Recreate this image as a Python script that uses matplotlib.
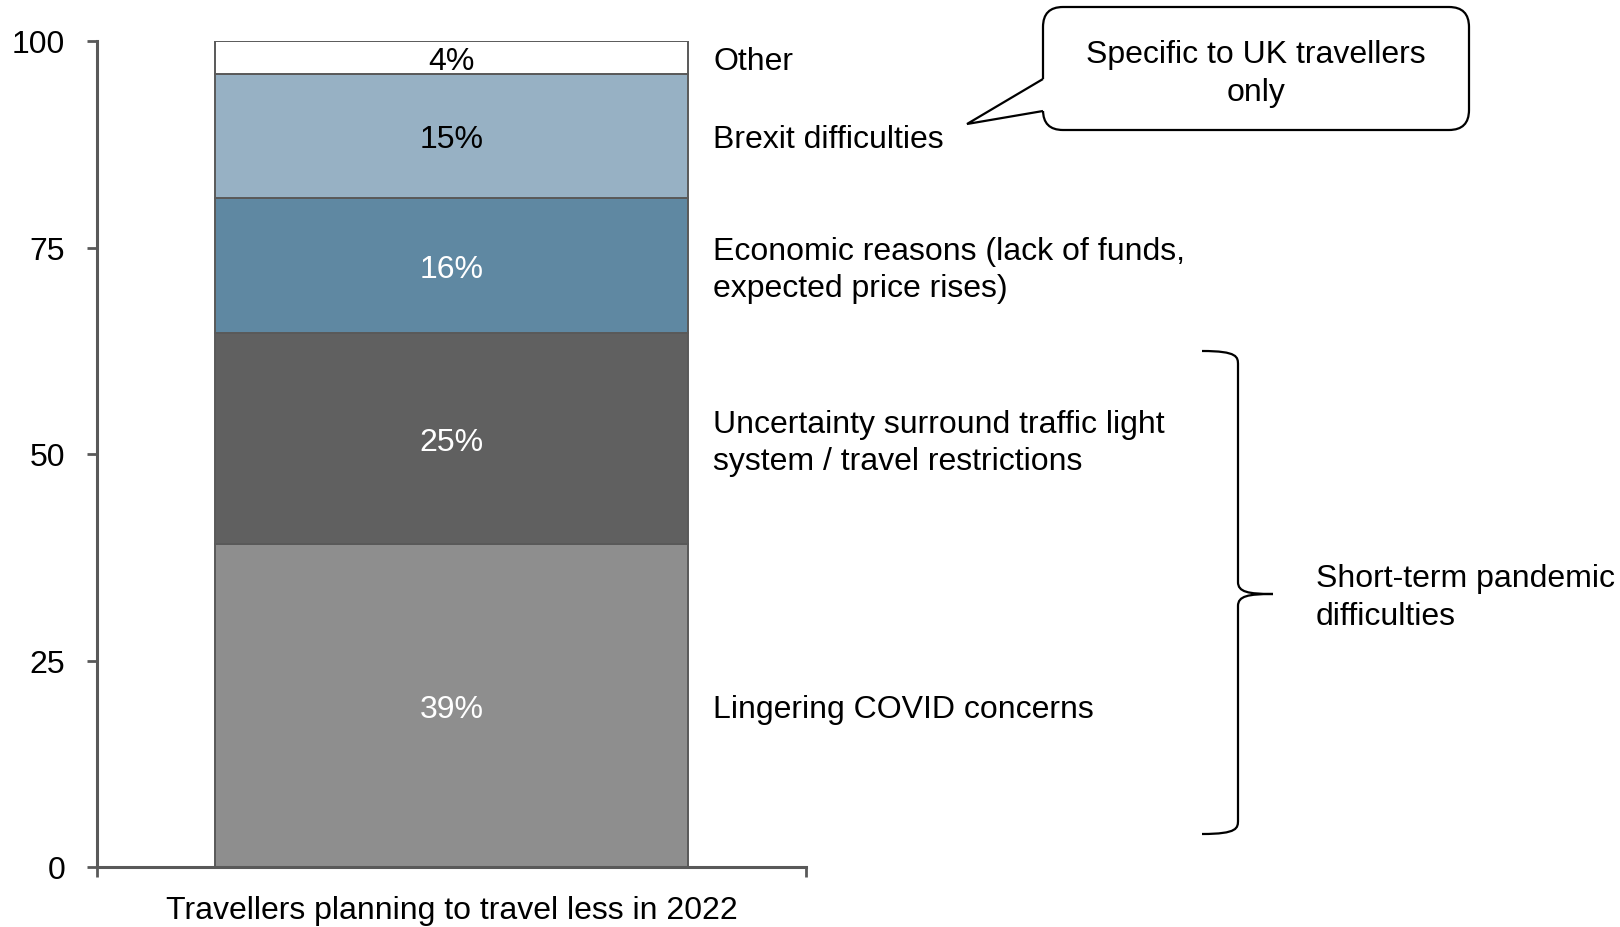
import matplotlib
matplotlib.use("Agg")
import matplotlib.pyplot as plt
from matplotlib.patches import FancyBboxPatch, Polygon, PathPatch
from matplotlib.path import Path
from matplotlib.transforms import Affine2D

plt.rcParams['font.family'] = ['Liberation Sans', 'DejaVu Sans']

# ---- data ----
category = "Travellers planning to travel less in 2022"
segments = ["Lingering COVID concerns",
            "Uncertainty surround traffic light\nsystem / travel restrictions",
            "Economic reasons (lack of funds,\nexpected price rises)",
            "Brexit difficulties",
            "Other"]
values = [39.1, 25.5, 16.4, 15.0, 4.0]
value_labels = ["39%", "25%", "16%", "15%", "4%"]
colors = ["#8E8E8E", "#606060", "#5F88A2", "#97B1C4", "#FFFFFF"]
label_colors = ["white", "white", "white", "black", "black"]
yticks = [0, 25, 50, 75, 100]
callout_text = "Specific to UK travellers\nonly"
brace_text = "Short-term pandemic\ndifficulties"

W, H, DPI = 1620, 928, 100
fig = plt.figure(figsize=(W / DPI, H / DPI), dpi=DPI)
ax = fig.add_axes([97 / W, 60 / H, 709 / W, 826 / H])

FS = 23
bottom = 0
for v, c, lab, lc, seg in zip(values, colors, value_labels, label_colors, segments):
    ax.bar(0, v, bottom=bottom, width=0.667, color=c, edgecolor="#595959",
           linewidth=1.4, zorder=2)
    mid = bottom + v / 2
    ax.annotate(lab, (0, mid), xytext=(0, -3.5), textcoords="offset pixels",
                ha="center", va="center", color=lc, fontsize=FS, zorder=3)
    ax.annotate(seg, (0.369, mid), xytext=(0, -3.5), textcoords="offset pixels",
                ha="left", va="center", color="black", fontsize=FS,
                linespacing=1.3, annotation_clip=False)
    bottom += v

ax.set_xlim(-0.5, 0.5)
ax.set_ylim(0, 100)
ax.set_yticks(yticks)
ax.set_yticklabels([str(t) for t in yticks])
ax.set_xticks([0])
ax.set_xticklabels([category])
ax.set_xticks([-0.5, 0.5], minor=True)
ax.tick_params(axis="x", which="major", length=0, pad=20, labelsize=FS)
ax.tick_params(axis="x", which="minor", length=7, width=2, color="#595959", direction="out")
ax.tick_params(axis="y", length=7, width=2, color="#595959", pad=16, labelsize=FS)
for s in ["top", "right"]:
    ax.spines[s].set_visible(False)
for s in ["left", "bottom"]:
    ax.spines[s].set_color("#595959")
    ax.spines[s].set_linewidth(2.2)

# pixel transform (top-left origin)
px = Affine2D().scale(1 / DPI, -1 / DPI).translate(0, H / DPI) + fig.dpi_scale_trans

# callout box
box = FancyBboxPatch((1043, 8), 1469 - 1043, 131 - 8,
                     boxstyle="round,pad=0,rounding_size=20",
                     facecolor="white", edgecolor="black", linewidth=1.6,
                     transform=px, zorder=5)
fig.patches.append(box)
tip = (967, 125)
a1 = (1043, 80)
a2 = (1043, 112)
cover = Polygon([tip, a1, (1046, a1[1]), (1046, a2[1]), a2], closed=True,
                facecolor="white", edgecolor="none", transform=px, zorder=6)
fig.patches.append(cover)
ptr = Path([a1, tip, a2], [Path.MOVETO, Path.LINETO, Path.LINETO])
fig.patches.append(PathPatch(ptr, facecolor="none", edgecolor="black", linewidth=1.6,
                             transform=px, zorder=7))
fig.text(1256 / W, 1 - 74 / H, callout_text, ha="center", va="center",
         fontsize=FS, linespacing=1.38, zorder=8)

# brace
xl, xv, xt = 1202, 1238, 1273
yt, ym, yb = 352, 595, 835
verts = [(xl, yt), (xv, yt), (xv, yt + 6), (xv, yt + 14),
         (xv, ym - 12),
         (xv, ym - 2), (xv + 10, ym), (xt, ym),
         (xv + 10, ym), (xv, ym + 2), (xv, ym + 12),
         (xv, yb - 14),
         (xv, yb - 6), (xv, yb), (xl, yb)]
codes = [Path.MOVETO, Path.CURVE4, Path.CURVE4, Path.CURVE4,
         Path.LINETO,
         Path.CURVE4, Path.CURVE4, Path.CURVE4,
         Path.CURVE4, Path.CURVE4, Path.CURVE4,
         Path.LINETO,
         Path.CURVE4, Path.CURVE4, Path.CURVE4]
fig.patches.append(PathPatch(Path(verts, codes), facecolor="none", edgecolor="black",
                             linewidth=1.6, transform=px))
fig.text(1316 / W, 1 - 598 / H, brace_text, ha="left", va="center",
         fontsize=FS, linespacing=1.37)

fig.savefig("out.png", dpi=DPI)
